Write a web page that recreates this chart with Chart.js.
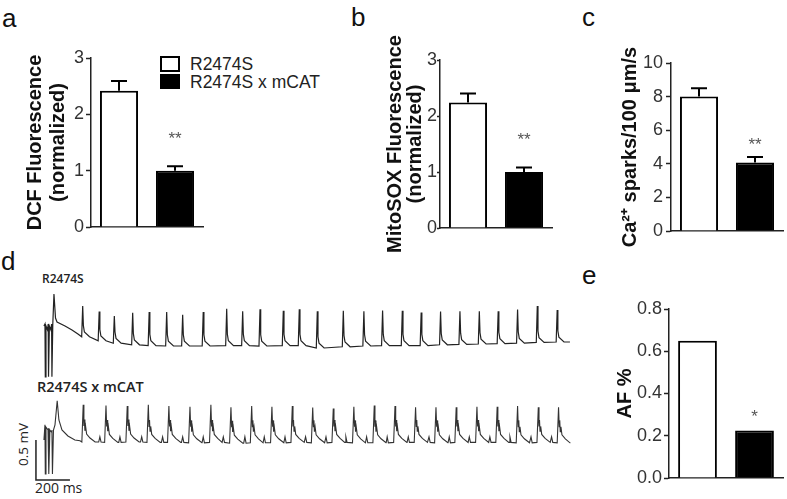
<!DOCTYPE html>
<html>
<head>
<meta charset="utf-8">
<script src="https://cdn.jsdelivr.net/npm/chart.js@4.4.1/dist/chart.umd.min.js"></script>
<style>
  body { margin: 0; background: #fff; width: 787px; height: 499px; position: relative; overflow: hidden;
         font-family: "Liberation Sans", Arial, sans-serif; }
  canvas { position: absolute; }
  .panel { position: absolute; font-size: 26px; line-height: 26px; color: #111; }
  .key { position: absolute; border: 2px solid #000; }
  .keytxt { position: absolute; font-size: 17.5px; line-height: 18px; color: #222; white-space: nowrap; }
  .ecg { position: absolute; font-family: "Open Sans", sans-serif; font-weight: 600; color: #222; white-space: nowrap; }
</style>
</head>
<body>
<div class="panel" style="left:2px;top:5px">a</div>
<div class="panel" style="left:351px;top:4px">b</div>
<div class="panel" style="left:582px;top:4px">c</div>
<div class="panel" style="left:1px;top:248px">d</div>
<div class="panel" style="left:582px;top:262px">e</div>

<div class="key" style="left:160px;top:56px;width:16px;height:12px;background:#fff"></div>
<div class="keytxt" style="left:190px;top:55px">R2474S</div>
<div class="key" style="left:160px;top:74px;width:16px;height:11px;background:#000"></div>
<div class="keytxt" style="left:190px;top:73px">R2474S x mCAT</div>

<div class="ecg" style="left:42px;top:270px;font-size:12px">R2474S</div>
<div class="ecg" style="left:37px;top:377px;font-size:14.5px">R2474S x mCAT</div>
<div class="ecg" style="left:14px;top:450px;font-size:13.5px;font-weight:400;transform:rotate(-90deg);transform-origin:8px 8px">0.5 mV</div>
<div class="ecg" style="left:35px;top:478px;font-size:14px;font-weight:400">200 ms</div>

<canvas id="chartA" width="215" height="240" style="left:0;top:0"></canvas>
<canvas id="chartB" width="200" height="262" style="left:360px;top:0"></canvas>
<canvas id="chartC" width="187" height="250" style="left:600px;top:0"></canvas>
<canvas id="chartE" width="192" height="249" style="left:595px;top:250px"></canvas>
<canvas id="chartD" width="560" height="234" style="left:30px;top:265px"></canvas>

<script>
// bar panels
const groups = ["R2474S", "R2474S x mCAT"];
const dcfMean = [2.42, 1.0];
const dcfSem = [0.17, 0.08];
const mitoMean = [2.24, 1.0];
const mitoSem = [0.16, 0.08];
const sparkMean = [8.0, 4.08];
const sparkSem = [0.5, 0.33];
const afMean = [0.65, 0.225];
const dcfStars = ["", "**"];
const mitoStars = ["", "**"];
const sparkStars = ["", "**"];
const afStars = ["", "*"];
const foldTicks = [0, 1, 2, 3];
const sparkTicks = [0, 2, 4, 6, 8, 10];
const afTicks = ["0.0", "0.2", "0.4", "0.6", "0.8"];

// ECG traces (ms, mV)
const r2474sOnset = [[47, 1.925], [53, 1.95], [55, 1.29], [59, 1.925], [68, 1.875], [72, 1.95], [74, 1.29],
  [79, 1.925], [88, 1.875], [92, 1.95], [94, 1.29], [99, 1.94], [106, 2.325], [115, 2.025], [124, 1.975],
  [171, 1.925], [212, 1.875], [247, 1.825]];
const r2474sBeats = [275, 372, 461, 569, 666, 769, 863, 984, 1122, 1216, 1318, 1455, 1549, 1655, 1808,
  1929, 2039, 2155, 2266, 2380, 2494, 2608, 2719, 2833, 2949, 3066];
const r2474sPeaks = [2.175, 2.105, 2.05, 2.09, 2.1, 2.1, 2.065, 2.1, 2.14, 2.11, 2.135, 2.115, 2.135,
  2.11, 2.115, 2.11, 2.12, 2.115, 2.095, 2.105, 2.11, 2.11, 2.11, 2.13, 2.175, 2.125];
const r2474sBase = [1.79, 1.74, 1.71, 1.69, 1.68, 1.675, 1.675, 1.675, 1.68, 1.68, 1.675, 1.68, 1.68,
  1.65, 1.665, 1.675, 1.68, 1.68, 1.68, 1.69, 1.695, 1.7, 1.705, 1.71, 1.72, 1.725];
const mcatOnset = [[47, 0.5], [53, 0.69], [55, 0.075], [59, 0.66], [71, 0.625], [75, 0.65], [76, 0.075],
  [82, 0.625], [91, 0.6], [94, 0.625], [97, 0.075], [103, 0.625], [112, 0.69], [125, 0.99], [135, 0.75],
  [153, 0.625], [188, 0.55], [229, 0.5], [259, 0.49]];
const mcatBeats = [278, 412, 537, 661, 782, 906, 1029, 1147, 1269, 1388, 1508, 1628, 1749, 1870, 1990,
  2112, 2233, 2353, 2472, 2594, 2713, 2833, 2955, 3074];
const mcatPeaks = [0.94, 0.93, 0.925, 0.94, 0.925, 0.915, 0.94, 0.91, 0.925, 0.915, 0.925, 0.905, 0.895,
  0.915, 0.93, 0.925, 0.91, 0.91, 0.91, 0.915, 0.915, 0.925, 0.91, 0.91];
const mcatBase = [0.475, 0.47, 0.475, 0.47, 0.47, 0.465, 0.47, 0.46, 0.465, 0.465, 0.47, 0.465, 0.47,
  0.465, 0.465, 0.47, 0.47, 0.465, 0.47, 0.47, 0.47, 0.465, 0.47, 0.465];
const mcatPWaves = [376, 494, 622, 745, 863, 984, 1102, 1229, 1343, 1465, 1586, 1706, 1823, 1945, 2066,
  2190, 2312, 2431, 2549, 2670, 2788, 2912, 3033];
const mcatPLevel = 0.54;
const traceEnd = 3141;
const scaleBarMs = 200;
const scaleBarMv = 0.5;

const errorBars = {
  id: "errorBars",
  afterDatasetsDraw(chart, args, opts) {
    const ctx = chart.ctx;
    const y = chart.scales.y;
    const values = chart.data.datasets[0].data;
    ctx.save();
    chart.getDatasetMeta(0).data.forEach((bar, i) => {
      const top = values[i] + (opts.sem ? opts.sem[i] : 0);
      const yTop = y.getPixelForValue(top);
      if (opts.sem) {
        ctx.strokeStyle = "#000";
        ctx.lineWidth = 2;
        ctx.beginPath();
        ctx.moveTo(bar.x, bar.y);
        ctx.lineTo(bar.x, yTop);
        ctx.moveTo(bar.x - 8, yTop);
        ctx.lineTo(bar.x + 8, yTop);
        ctx.stroke();
      }
      if (opts.stars && opts.stars[i]) {
        ctx.fillStyle = "#555";
        ctx.font = "17px 'Liberation Sans'";
        ctx.textAlign = "center";
        ctx.textBaseline = "middle";
        ctx.fillText(opts.stars[i], bar.x, yTop - opts.gap + 4);
      }
    });
    ctx.restore();
  }
};

function barPanel(id, values, cfg) {
  return new Chart(document.getElementById(id), {
    type: "bar",
    data: {
      labels: groups,
      datasets: [{
        data: values,
        backgroundColor: ["#fff", "#000"],
        borderColor: "#000",
        borderWidth: 2,
        barPercentage: 0.68,
        categoryPercentage: 1
      }]
    },
    plugins: [errorBars],
    options: {
      responsive: false,
      animation: false,
      layout: { autoPadding: false, padding: cfg.pad },
      plugins: {
        legend: { display: false },
        tooltip: { enabled: false },
        errorBars: { sem: cfg.sem, stars: cfg.stars, gap: cfg.gap }
      },
      scales: {
        x: {
          ticks: { display: false },
          grid: { display: false },
          border: { display: true, color: "#222", width: 1.5 },
          afterFit: s => { s.height = 0; }
        },
        y: {
          min: cfg.min,
          max: cfg.max,
          afterBuildTicks: s => { s.ticks = cfg.ticks.map(v => ({ value: Number(v) })); },
          ticks: {
            color: "#333",
            padding: cfg.tickPad,
            font: { family: "'Liberation Sans'", size: 18 },
            callback: (v, i) => String(cfg.ticks[i])
          },
          grid: { drawOnChartArea: false, tickLength: cfg.tickLen, tickColor: "#222", tickWidth: 1.5 },
          border: { color: "#222", width: 1.5 },
          title: {
            display: true,
            text: cfg.title,
            color: "#111",
            font: { family: "'Liberation Sans'", size: 20, weight: "bold", lineHeight: cfg.titleLh },
            padding: { top: cfg.titlePad, bottom: 0 }
          },
          afterFit: s => { s.width = cfg.axisWidth; }
        }
      }
    }
  });
}

barPanel("chartA", dcfMean, {
  sem: dcfSem, stars: dcfStars, gap: 31, min: 0, max: 3, ticks: foldTicks,
  title: ["DCF Fluorescence", "(normalized)"], titlePad: 23.5, titleLh: 1.15, axisWidth: 91, tickLen: 5, tickPad: 2,
  pad: { left: 0, top: 58, right: 12, bottom: 13 }
});
barPanel("chartB", mitoMean, {
  sem: mitoSem, stars: mitoStars, gap: 31, min: 0, max: 3, ticks: foldTicks,
  title: ["MitoSOX Fluorescence", "(normalized)"], titlePad: 25.5, titleLh: 1.0, axisWidth: 80, tickLen: 3, tickPad: 0,
  pad: { left: 0, top: 60, right: 8, bottom: 34 }
});
barPanel("chartC", sparkMean, {
  sem: sparkSem, stars: sparkStars, gap: 16, min: 0, max: 10, ticks: sparkTicks,
  title: "Ca²⁺ sparks/100 μm/s", titlePad: 18.5, titleLh: 1.15, axisWidth: 71, tickLen: 5, tickPad: 3,
  pad: { left: 0, top: 63, right: 4, bottom: 19 }
});
barPanel("chartE", afMean, {
  sem: null, stars: afStars, gap: 17, min: 0, max: 0.8, ticks: afTicks,
  title: "AF %", titlePad: 18.5, titleLh: 1.15, axisWidth: 74, tickLen: 5, tickPad: 2,
  pad: { left: 0, top: 59, right: 4, bottom: 21 }
});

// build trace points from the beat tables
function tracePoints(onset, beats, peaks, bases, shape, pWaves, pLevel) {
  const pts = onset.map(p => ({ x: p[0], y: p[1] }));
  beats.forEach((t, i) => {
    shape.forEach(s => pts.push({ x: t + s[0], y: s[1] === null ? peaks[i] : bases[i] + s[1] }));
  });
  (pWaves || []).forEach((t, i) => {
    const b = bases[Math.min(i, bases.length - 1)];
    pts.push({ x: t - 7, y: b }, { x: t, y: pLevel }, { x: t + 7, y: b });
  });
  pts.push({ x: traceEnd, y: bases[bases.length - 1] });
  return pts.sort((a, b) => a.x - b.x);
}

const shape1 = [[-6, 0], [0, null], [4, 0.14], [10, 0.06], [40, 0]];
const shape2 = [[-8, 0], [0, null], [4, 0.2], [7, 0.28], [10, 0.14], [14, 0.2], [20, 0.1], [40, 0.05], [70, 0]];

new Chart(document.getElementById("chartD"), {
  type: "line",
  data: {
    datasets: [
      { data: tracePoints(r2474sOnset, r2474sBeats, r2474sPeaks, r2474sBase, shape1), borderColor: "#222", borderWidth: 1.2 },
      { data: tracePoints(mcatOnset, mcatBeats, mcatPeaks, mcatBase, shape2, mcatPWaves, mcatPLevel), borderColor: "#333", borderWidth: 1.1 },
      { data: [{ x: 0, y: scaleBarMv }, { x: 0, y: 0 }, { x: scaleBarMs, y: 0 }], borderColor: "#222", borderWidth: 1.5 }
    ]
  },
  options: {
    responsive: false,
    animation: false,
    layout: { autoPadding: false, padding: 0 },
    elements: { point: { radius: 0 }, line: { tension: 0 } },
    plugins: { legend: { display: false }, tooltip: { enabled: false } },
    scales: {
      x: { type: "linear", display: false, min: -35, max: 3259 },
      y: { display: false, min: -0.2375, max: 2.6875 }
    }
  }
});
</script>
</body>
</html>
